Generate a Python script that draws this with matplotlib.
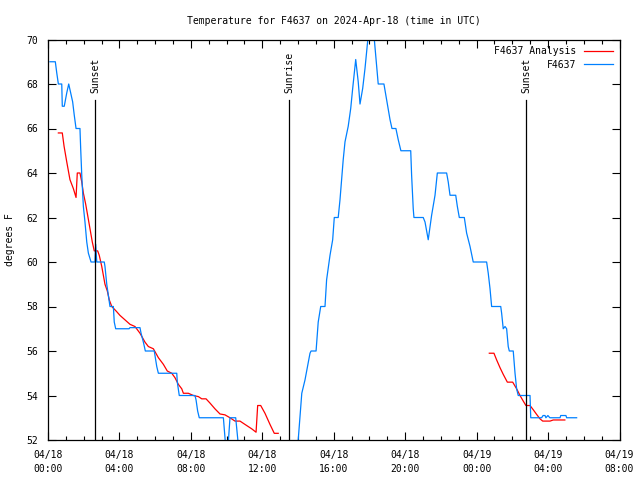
import numpy as np
import matplotlib
matplotlib.use("Agg")
import matplotlib.pyplot as plt
from matplotlib.ticker import MultipleLocator, FixedLocator

# hours since 04/18 00:00 UTC
obs_hours = [0.11, 0.41, 0.49, 0.58, 0.77, 0.80, 0.91, 1.05, 1.16, 1.27, 1.38, 1.47, 1.57, 1.79,
             1.83, 1.89, 1.98, 2.07, 2.17, 2.26, 2.41, 2.63, 2.67, 2.73, 3.15, 3.19, 3.29, 3.38,
             3.47, 3.66, 3.71, 3.79, 4.54, 4.59, 5.15, 5.21, 5.34, 5.45, 5.95, 5.99, 6.09, 6.18,
             7.21, 7.24, 7.35, 8.23, 8.29, 8.38, 8.47, 9.82, 10.02, 10.19, 10.51, 10.75, 11.0,
             13.8, 14.01, 14.21, 14.39, 14.67, 14.73, 15.01, 15.13, 15.27, 15.51, 15.60, 15.79,
             15.94, 16.03, 16.25, 16.35, 16.44, 16.53, 16.63, 16.81, 16.95, 17.06, 17.23, 17.37,
             17.47, 17.62, 17.75, 17.93, 18.03, 18.25, 18.40, 18.49, 18.81, 18.96, 19.15, 19.26,
             19.48, 19.61, 19.76, 20.31, 20.36, 20.45, 20.49, 21.01, 21.11, 21.29, 21.48, 21.67,
             21.80, 22.32, 22.41, 22.51, 22.83, 22.92, 23.03, 23.31, 23.44, 23.63, 23.81, 24.56,
             24.65, 24.75, 24.84, 25.35, 25.40, 25.49, 25.59, 25.68, 25.77, 25.83, 26.05, 26.15,
             26.24, 26.33, 26.99, 27.03, 27.64, 27.72, 27.83, 27.88, 27.99, 28.10, 28.67, 28.71,
             29.00, 29.04, 29.60]
obs_temp = [69, 69, 68.5, 68, 68, 67, 67, 67.6, 68, 67.6, 67.2, 66.6, 66, 66,
            65.1, 63.9, 62.5, 61.8, 60.9, 60.4, 60, 60, 60.8, 60, 60, 59.8, 59, 58.5,
            58, 58, 57.3, 57, 57, 57.05, 57.05, 56.8, 56.4, 56, 56, 55.8, 55.3, 55,
            55, 54.6, 54, 54, 53.8, 53.3, 53, 53, 51, 53, 53, 51, 50,
            50, 52, 54.1, 54.7, 55.9, 56, 56, 57.3, 58, 58, 59.2, 60.3,
            61, 62, 62, 62.8, 63.7, 64.6, 65.4, 66.1, 66.9, 67.8, 69.1, 68.1,
            67.1, 67.8, 68.7, 70.2, 71, 70.2, 68.8, 68, 68, 67.3, 66.4, 66,
            66, 65.5, 65, 65, 63.9, 62.4, 62, 62, 61.8, 61, 62.1, 63,
            64, 64, 63.6, 63, 63, 62.5, 62, 62, 61.3, 60.7, 60, 60,
            59.5, 58.8, 58, 58, 57.7, 57, 57.1, 57, 56.2, 56, 56, 55,
            54.3, 54, 54, 53, 53, 53.1, 53.1, 53, 53.1, 53, 53, 53.1,
            53.1, 53, 53]

ana_hours = [0.58, 0.80, 0.90, 1.05, 1.23, 1.42, 1.57, 1.64, 1.79, 1.89, 1.98, 2.11, 2.22, 2.35,
             2.48, 2.59, 2.78, 2.87, 3.01, 3.10, 3.19, 3.32, 3.43, 3.57, 3.81, 4.03, 4.31, 4.59,
             4.87, 5.15, 5.43, 5.62, 5.90, 6.18, 6.46, 6.68, 6.93, 7.11, 7.30, 7.49, 7.58, 7.86,
             8.14, 8.42, 8.61, 8.85, 9.07, 9.35, 9.63, 9.91, 10.19, 10.47, 10.75, 11.03, 11.41,
             11.65, 11.74, 11.91, 12.15, 12.43, 12.67, 12.89,
             np.nan,
             24.71, 24.97, 25.12, 25.31, 25.49, 25.72, 26.02, 26.24, 26.43, 26.61, 26.76, 26.99,
             27.18, 27.36, 27.55, 27.70, 28.11, 28.29, 28.57, 28.94]
ana_temp = [65.8, 65.8, 65.2, 64.5, 63.7, 63.3, 62.9, 64, 64, 63.6, 63.1, 62.6, 62.1, 61.5,
            60.9, 60.5, 60.5, 60.3, 59.8, 59.4, 59, 58.7, 58.3, 58, 57.8, 57.6, 57.4, 57.2,
            57.1, 56.8, 56.4, 56.2, 56.1, 55.7, 55.4, 55.1, 55, 54.8, 54.5, 54.3, 54.1, 54.1,
            54, 53.95, 53.85, 53.85, 53.66, 53.4, 53.17, 53.13, 53, 52.85, 52.85, 52.7, 52.5,
            52.35, 53.55, 53.55, 53.2, 52.7, 52.3, 52.3,
            np.nan,
            55.9, 55.9, 55.6, 55.25, 54.95, 54.6, 54.6, 54.3, 54, 53.75, 53.55, 53.55,
            53.35, 53.15, 52.95, 52.85, 52.85, 52.9, 52.9, 52.9]

sun_hours = [2.65, 13.5, 26.78]
sun_labels = ["Sunset", "Sunrise", "Sunset"]

tick_hours = [0, 4, 8, 12, 16, 20, 24, 28, 32]
tick_labels = ["04/18\n00:00", "04/18\n04:00", "04/18\n08:00", "04/18\n12:00", "04/18\n16:00",
               "04/18\n20:00", "04/19\n00:00", "04/19\n04:00", "04/19\n08:00"]

plt.rcParams['font.family'] = ['DejaVu Sans Mono']
plt.rcParams['font.size'] = 7

fig = plt.figure(figsize=(6.4, 4.8), dpi=100)
ax = fig.add_axes([48 / 640, 1 - 440 / 480, 571.5 / 640, 400.5 / 480])

ax.plot(ana_hours, ana_temp, color='#ff0000', lw=0.9, label='F4637 Analysis')
ax.plot(obs_hours, obs_temp, color='#0080ff', lw=0.9, label='F4637')

for h, lab in zip(sun_hours, sun_labels):
    ax.plot([h, h], [52, 67.3], color='black', lw=0.9)
    ax.text(h, 67.6, lab, rotation=90, ha='center', va='bottom', fontsize=7)

ax.set_xlim(0, 32)
ax.set_ylim(52, 70)
ax.xaxis.set_major_locator(FixedLocator(tick_hours))
ax.set_xticklabels(tick_labels, linespacing=1.5)
ax.xaxis.set_minor_locator(MultipleLocator(1))
ax.yaxis.set_major_locator(MultipleLocator(2))
ax.tick_params(which='both', direction='in', top=True, right=True, width=0.8)
ax.tick_params(which='major', length=6, pad=7)
ax.tick_params(which='minor', length=3)
for s in ax.spines.values():
    s.set_linewidth(0.9)

ax.set_title('Temperature for F4637 on 2024-Apr-18 (time in UTC)', fontsize=7, pad=11)
ax.set_ylabel('degrees F', labelpad=8)

leg = ax.legend(loc='upper right', frameon=False, markerfirst=False, handlelength=3.0,
                borderaxespad=0.3, labelspacing=0.35, handletextpad=0.8)
for t in leg.get_texts():
    t.set_ha('right')

fig.savefig('out.png', dpi=100)
